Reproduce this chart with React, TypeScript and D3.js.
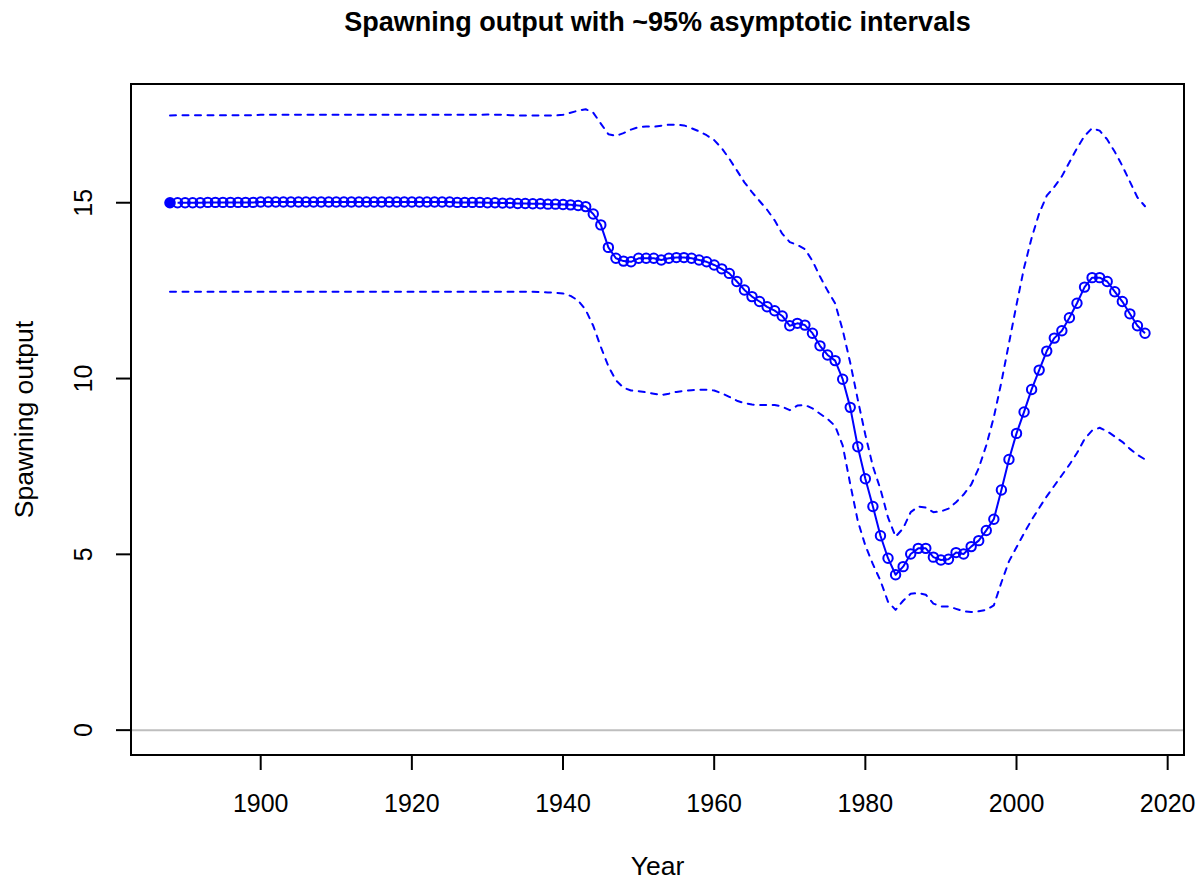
import React from "react";
import * as d3 from "d3";

const years: number[] = d3.range(1888, 2018);

// Spawning output estimates 1888..2017
const spawning: number[] = [
  15.0,
  15.0, 15.0, 15.0, 15.0, 15.01, 15.01, 15.01, 15.01, 15.01, 15.01, 15.01,
  15.02, 15.02, 15.02, 15.02, 15.02, 15.02, 15.02, 15.02, 15.02, 15.02,
  15.02, 15.02, 15.02, 15.02, 15.02, 15.02, 15.02, 15.02, 15.02, 15.02,
  15.02, 15.02, 15.02, 15.02, 15.02, 15.02, 15.01, 15.01, 15.01, 15.01,
  15.0, 15.0, 14.99, 14.99, 14.98, 14.98, 14.97, 14.97, 14.96, 14.96,
  14.95, 14.94, 14.92, 14.89, 14.68, 14.37, 13.73, 13.42, 13.34, 13.32,
  13.42, 13.42, 13.42, 13.37, 13.42, 13.44, 13.44, 13.42, 13.37, 13.32,
  13.23, 13.12, 12.99, 12.76, 12.52, 12.33, 12.19, 12.04, 11.93, 11.78,
  11.5, 11.57, 11.52, 11.29, 10.93, 10.67, 10.51, 9.98, 9.18, 8.06,
  7.15, 6.36, 5.53, 4.89, 4.42, 4.65, 5.01, 5.17, 5.17, 4.92,
  4.84, 4.86, 5.05, 5.01, 5.22, 5.39, 5.68, 6.0, 6.83, 7.7,
  8.44, 9.05, 9.69, 10.24, 10.78, 11.15, 11.36, 11.73, 12.14, 12.6,
  12.87, 12.87, 12.76, 12.47, 12.19, 11.84, 11.5, 11.29,
];

// Upper ~95% interval 1888..2017
const upper: number[] = [
  17.48,
  17.49, 17.49, 17.49, 17.49, 17.49, 17.49, 17.49, 17.49, 17.49, 17.49, 17.49,
  17.5, 17.5, 17.5, 17.5, 17.5, 17.5, 17.5, 17.5, 17.5, 17.5,
  17.5, 17.5, 17.5, 17.5, 17.5, 17.5, 17.5, 17.5, 17.5, 17.5,
  17.5, 17.5, 17.5, 17.5, 17.5, 17.5, 17.5, 17.5, 17.5, 17.5,
  17.51, 17.5, 17.5, 17.49, 17.48, 17.48, 17.48, 17.48, 17.48, 17.48,
  17.5, 17.56, 17.62, 17.66, 17.56, 17.25, 16.95, 16.9, 16.98, 17.08,
  17.15, 17.17, 17.16, 17.19, 17.22, 17.22, 17.2, 17.12, 17.03, 16.92,
  16.78, 16.55, 16.25, 15.92, 15.58, 15.3, 15.05, 14.8, 14.5, 14.12,
  13.88, 13.8, 13.68, 13.35, 12.9, 12.5, 12.14, 11.38, 10.45, 9.4,
  8.4, 7.5, 6.85, 6.05, 5.5, 5.74, 6.2, 6.36, 6.33, 6.2,
  6.22, 6.3, 6.48, 6.7, 6.98, 7.45, 8.1, 8.9, 9.9, 11.0,
  12.1, 13.15, 14.0, 14.7, 15.2, 15.45, 15.75, 16.15, 16.55, 16.9,
  17.12, 17.05, 16.8, 16.45, 16.05, 15.6, 15.15, 14.9,
];

// Lower ~95% interval 1888..2017
const lower: number[] = [
  12.47,
  12.47, 12.47, 12.47, 12.47, 12.47, 12.47, 12.47, 12.47, 12.47, 12.47, 12.47,
  12.47, 12.47, 12.47, 12.47, 12.47, 12.47, 12.47, 12.47, 12.47, 12.47,
  12.47, 12.47, 12.47, 12.47, 12.47, 12.47, 12.47, 12.47, 12.47, 12.47,
  12.47, 12.47, 12.47, 12.47, 12.47, 12.47, 12.47, 12.47, 12.47, 12.47,
  12.47, 12.47, 12.47, 12.47, 12.47, 12.47, 12.47, 12.46, 12.45, 12.44,
  12.42, 12.35, 12.22, 11.95, 11.5, 10.9, 10.35, 9.95, 9.74, 9.66,
  9.64, 9.61, 9.57, 9.53, 9.57, 9.62, 9.65, 9.67, 9.68, 9.68,
  9.66, 9.58, 9.48, 9.37, 9.3, 9.26, 9.25, 9.25, 9.25, 9.2,
  9.1, 9.23, 9.25, 9.15, 9.0, 8.85, 8.65, 8.1, 7.0, 5.95,
  5.25, 4.72, 4.25, 3.65, 3.42, 3.68, 3.88, 3.9, 3.85, 3.6,
  3.52, 3.52, 3.45, 3.38, 3.36, 3.38, 3.42, 3.55, 4.2, 4.8,
  5.2, 5.6, 5.98, 6.32, 6.65, 6.95, 7.25, 7.55, 7.88, 8.28,
  8.52, 8.6, 8.5, 8.35, 8.2, 8.0, 7.83, 7.7,
];

const xTicks: number[] = [1900, 1920, 1940, 1960, 1980, 2000, 2020];
const yTicks: number[] = [0, 5, 10, 15];

const TITLE = "Spawning output with ~95% asymptotic intervals";
const XLABEL = "Year";
const YLABEL = "Spawning output";

export default function App() {
  const W = 1203;
  const H = 880;
  const left = 131;
  const right = 1184;
  const top = 84;
  const bottom = 755;
  const blue = "#0000ff";
  const font = "'Liberation Sans', Arial, Helvetica, sans-serif";

  const x = d3.scaleLinear().domain([1882.84, 2022.16]).range([left, right]);
  const y = d3.scaleLinear().domain([-0.707, 18.377]).range([bottom, top]);

  const line = d3
    .line<number>()
    .x((_, i) => x(years[i]))
    .y((d) => y(d));

  const mainLine = d3
    .line<number>()
    .x((_, i) => x(years[i + 1]))
    .y((d) => y(d));

  const lw = 2;

  return (
    <svg
      width={W}
      height={H}
      style={{ position: "absolute", left: 0, top: 0, display: "block", background: "#fff" }}
      fontFamily={font}
    >
      <rect x={0} y={0} width={W} height={H} fill="#fff" />
      {/* zero reference line */}
      <line x1={left} x2={right} y1={y(0)} y2={y(0)} stroke="#bebebe" strokeWidth={2} />

      {/* intervals */}
      <path d={line(upper) || ""} fill="none" stroke={blue} strokeWidth={lw} strokeDasharray="6,6.5" strokeLinecap="round" strokeLinejoin="round" />
      <path d={line(lower) || ""} fill="none" stroke={blue} strokeWidth={lw} strokeDasharray="6,6.5" strokeLinecap="round" strokeLinejoin="round" />

      {/* main series */}
      <path d={mainLine(spawning.slice(1)) || ""} fill="none" stroke={blue} strokeWidth={lw} strokeLinejoin="round" />
      {spawning.map((v, i) =>
        i === 0 ? (
          <circle key={i} cx={x(years[i])} cy={y(v)} r={4.8} fill={blue} stroke={blue} strokeWidth={lw} />
        ) : (
          <circle key={i} cx={x(years[i])} cy={y(v)} r={4.7} fill="none" stroke={blue} strokeWidth={lw} />
        )
      )}

      {/* plot box */}
      <rect x={left} y={top} width={right - left} height={bottom - top} fill="none" stroke="#000" strokeWidth={2} />

      {/* x axis */}
      {xTicks.map((t) => (
        <g key={t}>
          <line x1={x(t)} x2={x(t)} y1={bottom} y2={bottom + 15} stroke="#000" strokeWidth={2} />
          <text x={x(t)} y={812} fontSize={25} textAnchor="middle" fill="#000">
            {t}
          </text>
        </g>
      ))}
      {/* y axis */}
      {yTicks.map((t) => (
        <g key={t}>
          <line x1={left} x2={left - 15} y1={y(t)} y2={y(t)} stroke="#000" strokeWidth={2} />
          <text
            transform={`translate(92,${y(t)}) rotate(-90)`}
            fontSize={25}
            textAnchor="middle"
            fill="#000"
          >
            {t}
          </text>
        </g>
      ))}

      {/* labels */}
      <text x={(left + right) / 2} y={875} fontSize={26.5} textAnchor="middle" fill="#000">
        {XLABEL}
      </text>
      <text
        transform={`translate(33,${(top + bottom) / 2}) rotate(-90)`}
        fontSize={26.5}
        textAnchor="middle"
        fill="#000"
      >
        {YLABEL}
      </text>
      <text x={(left + right) / 2} y={31} fontSize={27} fontWeight="bold" textAnchor="middle" fill="#000">
        {TITLE}
      </text>
    </svg>
  );
}
